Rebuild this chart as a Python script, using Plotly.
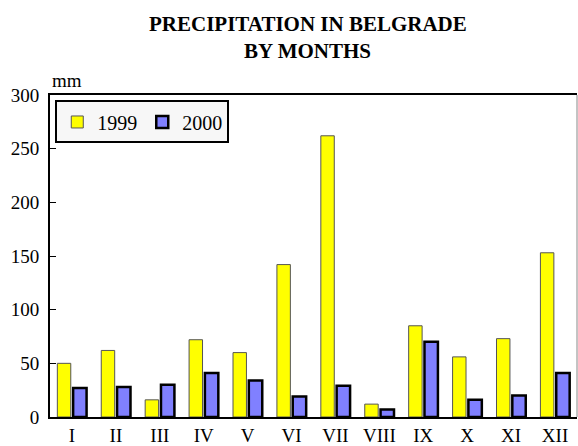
import plotly.graph_objects as go

months = ["I", "II", "III", "IV", "V", "VI", "VII", "VIII", "IX", "X", "XI", "XII"]
y1999 = [50, 62, 16, 72, 60, 142, 262, 12, 85, 56, 73, 153]
y2000 = [27, 28, 30, 41, 34, 19, 29, 7, 70, 16, 20, 41]
yticks = [0, 50, 100, 150, 200, 250, 300]
title_lines = ["PRECIPITATION IN BELGRADE", "BY MONTHS"]

FONT = "Liberation Serif, Times New Roman, serif"

fig = go.Figure()
fig.add_trace(go.Bar(x=months, y=y1999, name="1999",
                     marker=dict(color="#ffff00", line=dict(color="#555555", width=1))))
fig.add_trace(go.Bar(x=months, y=y2000, name="2000",
                     marker=dict(color="#8080ff", line=dict(color="#000000", width=2.5))))

PLOT_TOP, PLOT_BOTTOM = 95, 417
H = PLOT_BOTTOM - PLOT_TOP


def py(pix):
    return (PLOT_BOTTOM - pix) / H


annotations = [
    dict(text="<b>%s</b>" % title_lines[0], xref="paper", yref="paper", x=0.489, y=py(24),
         xanchor="center", yanchor="middle", showarrow=False,
         font=dict(family=FONT, size=21, color="black")),
    dict(text="<b>%s</b>" % title_lines[1], xref="paper", yref="paper", x=0.489, y=py(51),
         xanchor="center", yanchor="middle", showarrow=False,
         font=dict(family=FONT, size=21, color="black")),
    dict(text="mm", xref="paper", yref="paper", x=0, y=py(80),
         xanchor="left", yanchor="middle", showarrow=False,
         font=dict(family=FONT, size=19, color="black")),
]

fig.update_layout(
    width=578, height=446,
    margin=dict(l=50, r=1, t=PLOT_TOP, b=446 - PLOT_BOTTOM, autoexpand=False),
    paper_bgcolor="white", plot_bgcolor="white",
    barmode="group", bargap=0.28, bargroupgap=0.15,
    font=dict(family=FONT, size=19, color="black"),
    showlegend=True,
    legend=dict(orientation="h", x=0.01, y=0.983, xanchor="left", yanchor="top",
                bgcolor="#f7f7f7", bordercolor="black", borderwidth=2,
                font=dict(family=FONT, size=20, color="black"), itemwidth=30,
                entrywidth=40, entrywidthmode="pixels",
                tracegroupgap=0, traceorder="normal"),
    xaxis=dict(showline=True, linecolor="black", linewidth=2, mirror=True,
               ticks="", showgrid=False, tickfont=dict(size=19), automargin=False),
    yaxis=dict(range=[0, 300], tickvals=yticks, showline=True, linecolor="black",
               linewidth=2, ticks="inside", ticklen=6, tickcolor="black",
               showgrid=False, zeroline=False, tickfont=dict(size=19),
               ticklabelstandoff=5, automargin=False),
    annotations=annotations,
    shapes=[dict(type="line", xref="paper", yref="paper", x0=1, x1=1, y0=0, y1=1,
                 line=dict(color="#888888", width=1))],
)

fig.write_html("out.html", config={"displayModeBar": False},
               post_script="document.body.style.margin='0';document.body.style.overflow='hidden';")
